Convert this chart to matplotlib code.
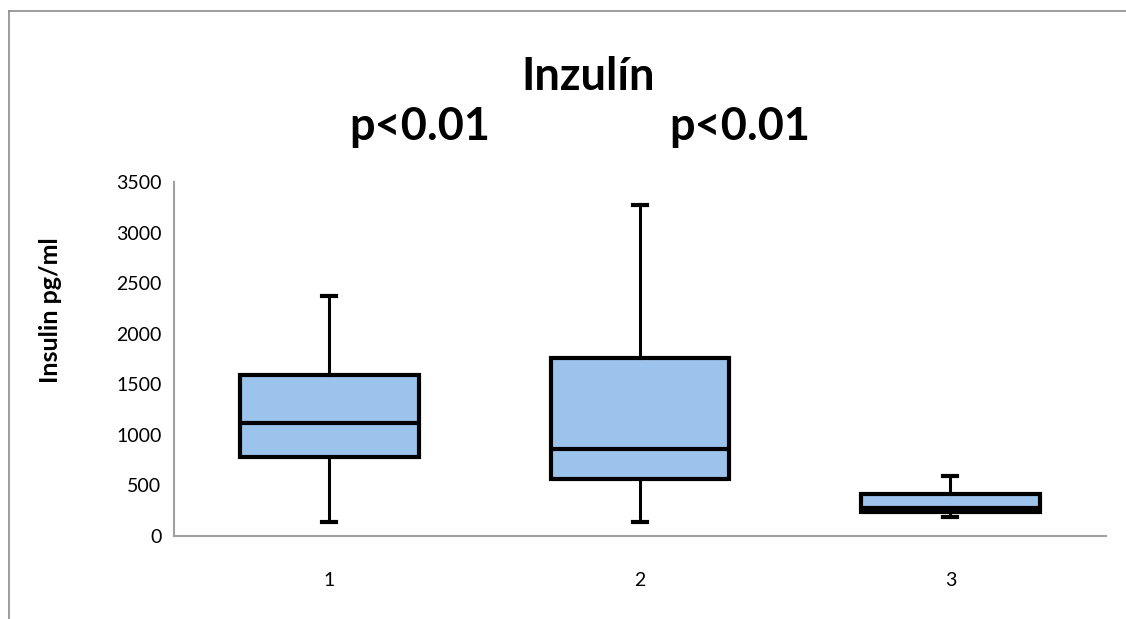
import matplotlib.pyplot as plt
from matplotlib.lines import Line2D

# insulin summary per group (pg/ml)
groups = ['1', '2', '3']
whisker_low = [141, 141, 188]
q1 = [784, 560, 237]
medians = [1120, 857, 280]
q3 = [1592, 1763, 415]
whisker_high = [2373, 3276, 596]
p_labels = ['p<0.01', 'p<0.01']

plt.rcParams['font.family'] = ['Lato', 'DejaVu Sans']

fig = plt.figure(figsize=(11.26, 6.19), dpi=100)
ax = fig.add_axes([0.1545, 0.1341, 0.8275, 0.5719])

stats = []
for i, g in enumerate(groups):
    stats.append({
        'label': g,
        'whislo': whisker_low[i],
        'q1': q1[i],
        'med': medians[i],
        'q3': q3[i],
        'whishi': whisker_high[i],
        'fliers': [],
    })

ax.bxp(stats, positions=[1, 2, 3], widths=0.575, patch_artist=True,
       showfliers=False, capwidths=0.045,
       boxprops=dict(facecolor='#9cc3ec', edgecolor='black', linewidth=3),
       medianprops=dict(color='black', linewidth=3),
       whiskerprops=dict(color='black', linewidth=2.2),
       capprops=dict(color='black', linewidth=3))

ax.set_xlim(0.5, 3.5)
ax.set_ylim(0, 3500)
ax.set_yticks(range(0, 3501, 500))
ax.tick_params(axis='both', length=0, labelsize=14, colors='black')
ax.tick_params(axis='x', pad=26)
ax.tick_params(axis='y', pad=9)

for side in ['top', 'right']:
    ax.spines[side].set_visible(False)
for side in ['left', 'bottom']:
    ax.spines[side].set_color('#a0a0a0')
    ax.spines[side].set_linewidth(1.5)

ax.set_ylabel('Insulin pg/ml', fontsize=18, fontweight='bold')
ax.yaxis.set_label_coords(-0.12, 0.638)

fig.text(0.522, 1 - 90 / 619, 'Inzulín', ha='center', va='baseline',
         fontsize=32.5, fontweight='bold')
fig.text(0.373, 1 - 140 / 619, p_labels[0], ha='center', va='baseline',
         fontsize=32.5, fontweight='bold')
fig.text(0.657, 1 - 140 / 619, p_labels[1], ha='center', va='baseline',
         fontsize=32.5, fontweight='bold')

# chart frame, running off the right and bottom edges
x0, y0 = 9 / 1126, 1 - 11 / 619
fig.add_artist(Line2D([x0, x0], [-0.1, y0], transform=fig.transFigure,
                      color='#8c8c8c', linewidth=1.2))
fig.add_artist(Line2D([x0, 1.1], [y0, y0], transform=fig.transFigure,
                      color='#8c8c8c', linewidth=1.2))

fig.savefig('out.png')
